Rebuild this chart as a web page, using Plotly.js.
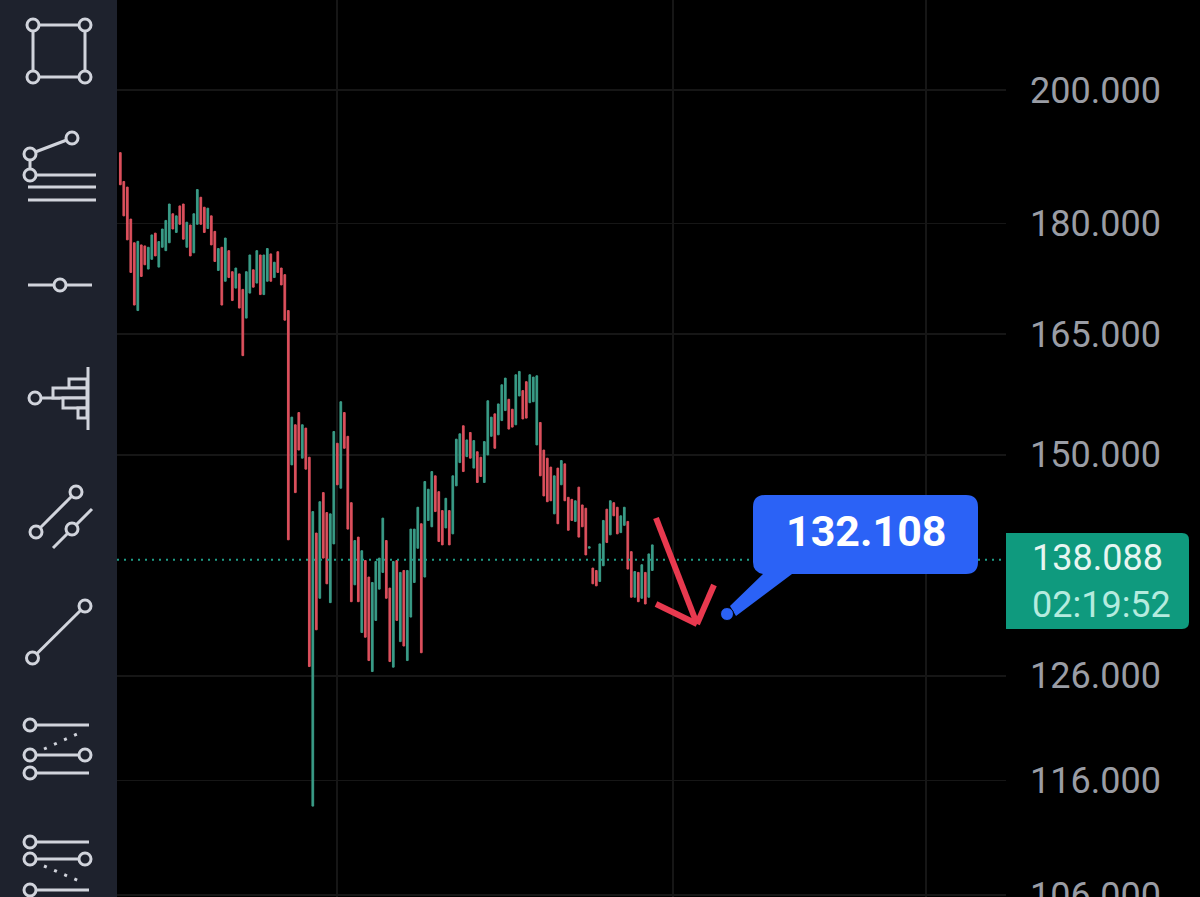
<!DOCTYPE html>
<html><head><meta charset="utf-8">
<script src="https://cdn.plot.ly/plotly-3.0.1.min.js"></script>
<style>html,body{margin:0;padding:0;background:#000;overflow:hidden}#c{width:1200px;height:897px}</style>
</head><body><div id="c"></div>
<script>
const barDirs = "RRRRRGRRGGRGGGGRGRRGRGGRRGRRGRGRRGRRGGRGRGGRGRRRRGRRGRRGRGRRGGRGRRRGRGRRGGGGRRGRGRGGGGRGGGRRRGRGGGRGRGRRGGGRGGGRRGGRRGGGRRRRGRGRRRGRRRGRRGGRGRRGGRRGRGRGG";
const barHigh = [190.36,186.08,185.26,180.64,177.3,177.5,177.0,176.86,176.67,178.4,178.65,177.47,179.23,180.45,182.8,181.4,181.1,182.53,182.8,180.2,179.8,181.4,184.9,183.78,182.34,182.2,181.1,178.9,176.5,176.67,177.96,176.2,173.3,173.8,173.0,170.9,173.3,175.6,173.56,176.2,175.6,175.6,176.5,175.75,174.6,176.05,173.8,172.9,168.07,
154.52,153.59,155.08,153.59,153.19,149.71,143.43,141.02,144.55,145.59,143.32,143.17,152.78,151.37,156.41,155.08,152.2,144.44,140.19,140.57,139.07,138.0,136.21,135.63,137.89,138.26,142.69,140.19,135.03,137.89,138.0,136.71,136.92,136.92,141.46,141.46,143.92,142.06,146.87,145.98,148.03,147.53,145.7,143.54,144.94,143.54,
147.53,151.86,152.5,153.47,151.77,152.66,151.69,150.36,149.71,151.57,156.53,154.52,154.92,156.14,158.51,159.35,156.71,155.49,159.77,160.19,157.79,158.9,159.77,159.48,159.64,153.87,150.56,149.6,148.55,147.53,148.43,149.32,148.93,145.05,144.82,144.66,146.22,144.18,143.81,139.5,137.18,136.92,139.82,142.43,143.7,144.66,144.44,143.92,142.95,143.92,142.32,138.97,136.81,136.71,137.54,136.71,138.72,139.71];
const barLow = [185.6,181.1,177.71,173.2,168.8,168.07,172.65,174.25,173.66,175.0,175.47,173.93,176.67,176.2,177.3,179.23,178.75,179.9,177.8,176.67,175.47,175.9,179.9,179.9,178.75,179.3,177.0,174.7,173.47,168.8,172.0,172.5,169.4,171.07,168.4,162.2,167.07,170.4,171.2,171.75,170.2,170.2,172.0,172.0,172.5,173.2,171.5,166.8,140.27,
148.81,145.59,150.56,149.6,148.31,126.93,113.7,130.66,133.95,138.26,135.49,133.49,139.82,146.49,146.1,150.77,141.46,133.59,135.38,133.59,130.38,129.9,127.53,126.43,131.63,134.92,136.71,133.95,127.43,126.87,131.63,129.45,129.0,127.53,131.98,135.63,139.34,128.32,136.21,142.43,141.72,143.43,140.08,139.71,141.59,139.71,
140.93,146.37,149.08,148.03,149.78,149.6,148.43,146.76,147.45,146.76,149.98,152.2,150.77,152.38,154.1,155.32,153.07,153.31,153.59,157.12,154.3,154.4,156.29,156.41,151.17,147.53,145.21,144.55,144.66,143.17,142.06,146.49,144.66,141.33,142.43,142.32,140.57,141.72,138.61,139.35,135.49,135.27,135.74,137.43,139.97,140.82,142.95,140.93,141.07,141.88,137.07,134.06,134.06,133.59,133.95,133.35,134.06,136.92];
const barIndex = barHigh.map((_, i) => i);
const priceTicks = [200,180,165,150,126,116,106];
const priceLabels = ["200.000","180.000","165.000","150.000","126.000","116.000","106.000"];
const timeTicks = [61.9,157.9,230.2];
const lastPrice = 138.088;
const lastPriceLabel = "138.088";
const countdownLabel = "02:19:52";
const calloutLabel = "132.108";

const up = i => barDirs[i] === "G";
const trace = {
  type: "candlestick",
  x: barIndex,
  open: barIndex.map(i => up(i) ? barLow[i] : barHigh[i]),
  close: barIndex.map(i => up(i) ? barHigh[i] : barLow[i]),
  high: barHigh,
  low: barLow,
  increasing: {line: {color: "#3a9c87", width: 1}, fillcolor: "#3a9c87"},
  decreasing: {line: {color: "#dc505d", width: 1}, fillcolor: "#dc505d"},
  hoverinfo: "skip",
  showlegend: false
};

/* chrome helpers: page pixels to paper fractions */
const W = 889, H = 897, L = 117;
const px = x => (x - L) / W;
const py = y => 1 - y / H;
const ICON = "#d1d4dc", BAR = "#1e222d";
const shapes = [];
const add = o => shapes.push(Object.assign({xref: "paper", yref: "paper"}, o));
const seg = (x0, y0, x1, y1, w, c, dash) => add({type: "line", x0: px(x0), y0: py(y0), x1: px(x1), y1: py(y1), line: {color: c || ICON, width: w || 3, dash: dash || "solid"}});
const dot = (x, y) => add({type: "circle", x0: px(x - 6), x1: px(x + 6), y0: py(y - 6), y1: py(y + 6), line: {color: ICON, width: 3}, fillcolor: BAR});
const box = (x0, y0, x1, y1) => add({type: "rect", x0: px(x0), x1: px(x1), y0: py(y0), y1: py(y1), line: {color: ICON, width: 3}, fillcolor: BAR});

/* last price line */
shapes.push({type: "line", xref: "paper", yref: "y", x0: 0, x1: 1, y0: lastPrice, y1: lastPrice, line: {color: "#1f9d87", width: 2, dash: "2px,5px"}, layer: "above"});

/* toolbar */
add({type: "rect", x0: px(0), x1: px(117), y0: py(0), y1: py(897), fillcolor: BAR, line: {width: 0}});
seg(33,25,85,25); seg(33,77,85,77); seg(33,25,33,77); seg(85,25,85,77);
dot(33,25); dot(85,25); dot(33,77); dot(85,77);
seg(30,154,72,138); seg(30,154,30,175); seg(30,175,96,175); seg(28,187,96,187); seg(28,200,96,200);
dot(72,138); dot(30,154); dot(30,175);
seg(28,285,92,285); dot(60,285);
seg(35,398,60,398);
box(69,379,87,388); box(53,388,87,398); box(63,398,87,408); box(78,408,87,418);
seg(88,367,88,430); dot(35,398);
seg(36,532,76,492); seg(53,548,92,509); dot(76,492); dot(36,532); dot(72,529);
seg(32.5,658,85,606); dot(85,606); dot(32.5,658);
seg(30,725,89,725); seg(30,755,85,755); seg(30,773,89,773); seg(44,749,84,731,3,ICON,"3px,8px");
dot(30,725); dot(30,755); dot(85,755); dot(30,773);
seg(30,842,89,842); seg(30,859,85,859); seg(30,890,89,890); seg(44,866,84,883,3,ICON,"3px,8px");
dot(30,842); dot(30,859); dot(85,859); dot(30,890);

/* last price tag */
const tagPath = `M ${px(1006)} ${py(533)} L ${px(1182)} ${py(533)} Q ${px(1189)} ${py(533)} ${px(1189)} ${py(540)} L ${px(1189)} ${py(622)} Q ${px(1189)} ${py(629)} ${px(1182)} ${py(629)} L ${px(1006)} ${py(629)} Z`;
add({type: "path", path: tagPath, fillcolor: "#0f9a7e", line: {width: 0}});

/* callout */
const cPath = [
  `M ${px(765)} ${py(495)}`, `L ${px(966)} ${py(495)}`, `Q ${px(978)} ${py(495)} ${px(978)} ${py(507)}`,
  `L ${px(978)} ${py(562)}`, `Q ${px(978)} ${py(574)} ${px(966)} ${py(574)}`,
  `L ${px(792)} ${py(574)}`, `L ${px(736)} ${py(616)}`, `L ${px(730)} ${py(606)}`, `L ${px(763)} ${py(574)}`,
  `Q ${px(753)} ${py(572)} ${px(753)} ${py(562)}`, `L ${px(753)} ${py(507)}`, `Q ${px(753)} ${py(495)} ${px(765)} ${py(495)} Z`
].join(" ");
add({type: "path", path: cPath, fillcolor: "#2b62f6", line: {width: 0}});
add({type: "circle", x0: px(720.5), x1: px(733.5), y0: py(607.5), y1: py(620.5), fillcolor: "#2b62f6", line: {color: "#000", width: 1}});

/* hand-drawn arrow */
seg(656,518,697,624,6,"#e8394f"); seg(656,604,697,624,6,"#e8394f"); seg(697,624,714,585,6,"#e8394f");

const note = (text, x, y, size, color, bold, align) => ({
  text: bold ? "<b>" + text + "</b>" : text, xref: "paper", yref: "paper", x: px(x), y: py(y),
  xanchor: "center", yanchor: "middle", align: align || "center", showarrow: false,
  font: {family: "Roboto", size: size, color: color}
});

const layout = {
  width: 1200, height: 897,
  margin: {l: 117, r: 194, t: 0, b: 0, pad: 0},
  paper_bgcolor: "#000", plot_bgcolor: "#000",
  showlegend: false, dragmode: false,
  xaxis: {range: [-0.943, 253.06], tickmode: "array", tickvals: timeTicks, showticklabels: false, ticks: "", showgrid: true, gridcolor: "#161616", gridwidth: 1.5, zeroline: false, showline: false, rangeslider: {visible: false}, fixedrange: true},
  yaxis: {type: "log", side: "right", range: [2.02463, 2.331856], tickmode: "array", tickvals: priceTicks, ticktext: priceLabels, ticks: "", ticklabelstandoff: 23, ticklabeloverflow: "allow", showgrid: true, gridcolor: "#161616", gridwidth: 1.5, zeroline: false, showline: false, fixedrange: true, tickfont: {family: "Roboto", size: 36, color: "#9a9da5"}},
  shapes: shapes,
  annotations: [
    note(lastPriceLabel + "<br><span style=\"color:#b5ebdf\">" + countdownLabel + "</span>", 1101, 581, 36, "#e6f5f1", false, "left"),
    note(calloutLabel, 866, 531, 43, "#ffffff", true)
  ]
};
Plotly.newPlot("c", [trace], layout, {displayModeBar: false, staticPlot: true});
</script></body></html>
